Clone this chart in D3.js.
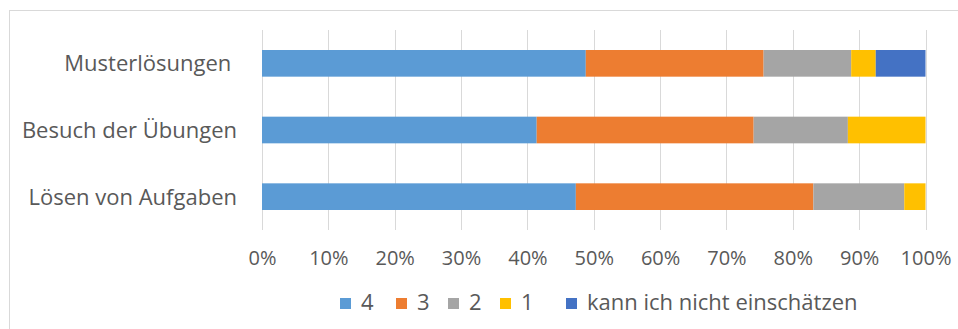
<!DOCTYPE html>
<html>
<head>
<meta charset="utf-8">
<script src="https://cdn.jsdelivr.net/npm/d3@7"></script>
<style>
  html, body { margin: 0; padding: 0; background: #fff; }
  svg { display: block; font-family: "Open Sans", "Noto Sans", sans-serif; }
  svg text { white-space: pre; }
</style>
</head>
<body>
<svg id="chart" width="958" height="329"></svg>
<script>
// Categories, top to bottom
const categories = ["Musterlösungen\u00a0", "Besuch der Übungen", "Lösen von Aufgaben"];
// Rating levels (stack order, left to right)
const levels = ["4", "3", "2", "1", "kann ich nicht einschätzen"];
// Share of answers per level (percent)
const share4 = [48.8, 41.4, 47.3];
const share3 = [26.8, 32.7, 35.8];
const share2 = [13.2, 14.2, 13.7];
const share1 = [3.7, 11.7, 3.2];
const shareNA = [7.5, 0, 0];
const tickValues = [0, 0.1, 0.2, 0.3, 0.4, 0.5, 0.6, 0.7, 0.8, 0.9, 1];
const colors = ["#5B9BD5", "#ED7D31", "#A5A5A5", "#FFC000", "#4472C4"];

const series = [share4, share3, share2, share1, shareNA];
const rows = categories.map((c, i) => {
  const r = { category: c };
  levels.forEach((l, j) => { r[l] = series[j][i] / 100; });
  return r;
});

const svg = d3.select("#chart");

// outer frame
svg.append("rect")
  .attr("x", 9.5).attr("y", 10.5)
  .attr("width", 970).attr("height", 340)
  .attr("fill", "none").attr("stroke", "#D9D9D9");

const plot = { left: 262, right: 925.5, top: 30, bottom: 230 };

const x = d3.scaleLinear().domain([0, 1]).range([plot.left, plot.right]);
const y = d3.scaleBand().domain(categories).range([plot.top, plot.bottom]).paddingInner(0.6).paddingOuter(0.3);

// vertical gridlines
svg.append("g")
  .selectAll("line")
  .data(tickValues)
  .join("line")
  .attr("x1", d => Math.round(x(d)) + 0.5)
  .attr("x2", d => Math.round(x(d)) + 0.5)
  .attr("y1", plot.top)
  .attr("y2", plot.bottom)
  .attr("stroke", "#D9D9D9")
  .attr("stroke-width", 1);

// stacked bars
const stack = d3.stack().keys(levels)(rows);
svg.append("g")
  .selectAll("g")
  .data(stack)
  .join("g")
  .attr("fill", (d, i) => colors[i])
  .selectAll("rect")
  .data(d => d)
  .join("rect")
  .attr("x", d => x(d[0]))
  .attr("width", d => x(d[1]) - x(d[0]))
  .attr("y", d => y(d.data.category))
  .attr("height", y.bandwidth());

// x axis labels
const xAxis = d3.axisBottom(x)
  .tickValues(tickValues)
  .tickFormat(d3.format(".0%"))
  .tickSize(0)
  .tickPadding(0);
const gx = svg.append("g")
  .attr("transform", `translate(0,265)`)
  .call(xAxis);
gx.select(".domain").remove();
gx.selectAll("text")
  .attr("y", 0)
  .attr("dy", 0)
  .attr("fill", "#595959")
  .style("font-size", "20px")
  .style("font-family", "'Open Sans', sans-serif");

// category labels
const yAxis = d3.axisLeft(y).tickSize(0).tickPadding(0);
const gy = svg.append("g")
  .attr("transform", `translate(237,0)`)
  .call(yAxis);
gy.select(".domain").remove();
gy.selectAll("text")
  .attr("dy", "0.36em")
  .attr("fill", "#595959")
  .style("font-size", "22px")
  .style("font-family", "'Open Sans', sans-serif");

// legend
const legendX = [340, 396, 448, 500, 566];
const legend = svg.append("g").attr("transform", "translate(0,310)");
const items = legend.selectAll("g")
  .data(levels)
  .join("g")
  .attr("transform", (d, i) => `translate(${legendX[i]},0)`);
items.append("rect")
  .attr("x", 0).attr("y", -12)
  .attr("width", 11).attr("height", 11)
  .attr("fill", (d, i) => colors[i]);
items.append("text")
  .attr("x", 21)
  .attr("fill", "#595959")
  .style("font-size", "22px")
  .text(d => d);
</script>
</body>
</html>
